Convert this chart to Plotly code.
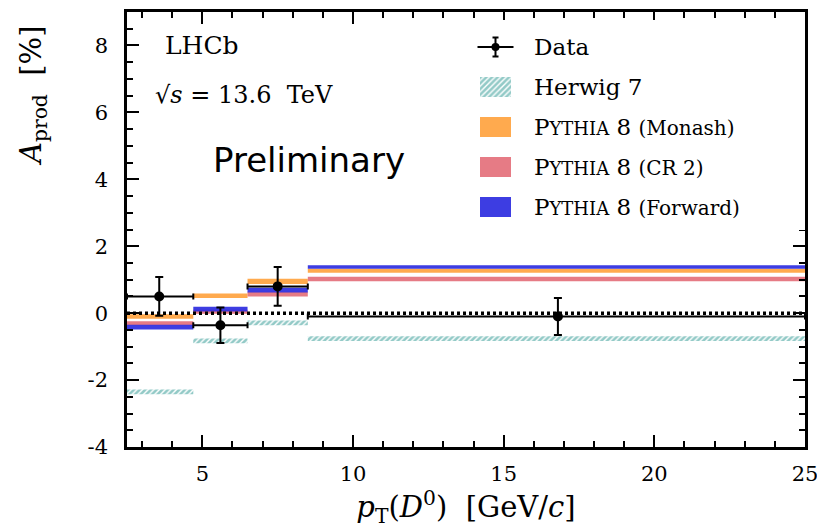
import plotly.graph_objects as go

# ---- data ----
bin_lo = [2.5, 4.7, 6.5, 8.5]
bin_hi = [4.7, 6.5, 8.5, 25.0]
data_x = [3.57, 5.6, 7.5, 16.8]
data_y = [0.50, -0.36, 0.80, -0.10]
data_err = [0.58, 0.53, 0.58, 0.55]

herwig = [-2.35, -0.83, -0.29, -0.76]
herwig_hw = [0.07, 0.07, 0.07, 0.07]
monash = [-0.10, 0.52, 0.95, 1.27]
monash_hw = [0.07, 0.07, 0.08, 0.06]
cr2 = [-0.30, 0.04, 0.57, 1.02]
cr2_hw = [0.06, 0.06, 0.07, 0.07]
forward = [-0.42, 0.12, 0.69, 1.38]
forward_hw = [0.07, 0.07, 0.07, 0.05]

y_tickvals = [-4, -2, 0, 2, 4, 6, 8]
y_ticktext = ["-4", "-2", "0", "2", "4", "6", "8"]
x_tickvals = [5, 10, 15, 20, 25]
x_ticktext = ["5", "10", "15", "20", "25"]

SC = "<span style='font-size:18px'>YTHIA</span>"
SM = "<span style='font-size:20px'>"
legend_labels = ["Data", "Herwig 7",
                 "P" + SC + " 8 " + SM + "(Monash)</span>",
                 "P" + SC + " 8 " + SM + "(CR 2)</span>",
                 "P" + SC + " 8 " + SM + "(Forward)</span>"]

SERIF = "DejaVu Serif"
SANS = "DejaVu Sans"
C_HERWIG = "#28958f"
C_MONASH = "#ffa33f"
C_CR2 = "#e4707b"
C_FWD = "#2d2de0"

centers = [(a + b) / 2 for a, b in zip(bin_lo, bin_hi)]
widths = [b - a for a, b in zip(bin_lo, bin_hi)]

fig = go.Figure()


def marker_style(color, hatched):
    if hatched:
        return dict(color="white", line=dict(width=0),
                    pattern=dict(shape="/", fgcolor=color, bgcolor="white",
                                 size=4, solidity=0.65))
    return dict(color=color, line=dict(width=0))


def band(name, vals, hws, color, hatched=False):
    fig.add_trace(go.Bar(
        x=centers, width=widths,
        base=[v - h for v, h in zip(vals, hws)],
        y=[2 * h for h in hws],
        marker=marker_style(color, hatched), opacity=1 if hatched else 0.92,
        name=name, showlegend=False, hoverinfo="skip",
    ))


band(legend_labels[1], herwig, herwig_hw, C_HERWIG, hatched=True)
band(legend_labels[2], monash, monash_hw, C_MONASH)
band(legend_labels[3], cr2, cr2_hw, C_CR2)
band(legend_labels[4], forward, forward_hw, C_FWD)

# zero reference line
fig.add_trace(go.Scatter(
    x=[bin_lo[0], bin_hi[-1]], y=[0, 0], mode="lines",
    line=dict(color="black", width=3.5, dash="3px,3px"),
    showlegend=False, hoverinfo="skip",
))

# data
fig.add_trace(go.Scatter(
    x=data_x, y=data_y, mode="markers", name="Data", showlegend=False,
    marker=dict(color="black", size=10),
    error_y=dict(type="data", array=data_err, color="black", thickness=2, width=4),
    error_x=dict(type="data",
                 array=[h - x for h, x in zip(bin_hi, data_x)],
                 arrayminus=[x - l for l, x in zip(bin_lo, data_x)],
                 color="black", thickness=2, width=3),
))

# ---- legend drawn on an inset axis (units ~ pixels) ----
leg_rows = [47, 87, 127, 167, 207]
leg_sym_x = 495.5
leg_sym_w = 31
leg_sym_h = 20
leg_text_x = 532

fig.add_trace(go.Scatter(
    x=[leg_sym_x], y=[leg_rows[0]], mode="markers", xaxis="x2", yaxis="y2",
    marker=dict(color="black", size=8), showlegend=False, hoverinfo="skip",
    error_x=dict(type="constant", value=18, color="black", thickness=2, width=0),
    error_y=dict(type="constant", value=9.5, color="black", thickness=2, width=3),
))
for row, color, hatched in zip(leg_rows[1:], [C_HERWIG, C_MONASH, C_CR2, C_FWD],
                               [True, False, False, False]):
    fig.add_trace(go.Bar(
        x=[leg_sym_x], width=[leg_sym_w], base=[row - leg_sym_h / 2], y=[leg_sym_h],
        xaxis="x2", yaxis="y2", marker=marker_style(color, hatched),
        opacity=1 if hatched else 0.92, showlegend=False, hoverinfo="skip",
    ))
for row, label in zip(leg_rows, legend_labels):
    fig.add_annotation(text=label, xref="x2", yref="y2", x=leg_text_x, y=row,
                       xanchor="left", yanchor="middle", showarrow=False,
                       font=dict(family=SERIF, size=23, color="black"))

axis_common = dict(
    showline=True, linecolor="black", linewidth=2.5, mirror="ticks",
    ticks="inside", ticklen=12, tickwidth=2, tickcolor="black",
    showgrid=False, zeroline=False, ticklabeloverflow="allow", automargin=False,
    tickfont=dict(family=SERIF, size=21, color="black"),
)

W, H = 817, 531
ML, MR, MT, MB = 127, 12, 12, 84
pw, ph = W - ML - MR, H - MT - MB

fig.update_layout(
    width=W, height=H,
    margin=dict(l=ML, r=MR, t=MT, b=MB),
    paper_bgcolor="white", plot_bgcolor="white",
    barmode="overlay",
    showlegend=False,
    xaxis=dict(range=[2.5, 25], tickvals=x_tickvals, ticktext=x_ticktext,
               minor=dict(dtick=1, ticks="inside", ticklen=6, tickwidth=2,
                          tickcolor="black", tick0=0),
               title=dict(text="<i>p</i><sub>T</sub>(<i>D</i><sup>0</sup>)  [GeV/<i>c</i>]",
                          font=dict(family=SERIF, size=29, color="black"), standoff=4),
               ticklabelstandoff=6,
               **axis_common),
    yaxis=dict(range=[-4, 9], tickvals=y_tickvals, ticktext=y_ticktext,
               minor=dict(dtick=0.5, ticks="inside", ticklen=6, tickwidth=2,
                          tickcolor="black", tick0=0),
               ticklabelstandoff=12,
               **axis_common),
    xaxis2=dict(domain=[(470 - ML) / pw, 1], range=[470, W - MR], visible=False,
                anchor="y2", fixedrange=True),
    yaxis2=dict(domain=[(H - MB - 230) / ph, (H - MB - 20) / ph], range=[230, 20],
                visible=False, anchor="x2", fixedrange=True),
)

fig.add_annotation(text="<i>A</i><sub>prod</sub>  [%]", xref="paper", yref="paper",
                   x=-(ML - 33) / pw, y=(H - MB - 24) / ph, textangle=-90,
                   xanchor="center", yanchor="top", showarrow=False,
                   font=dict(family=SERIF, size=29, color="black"))
fig.add_annotation(text="LHCb", xref="paper", yref="paper", x=(163 - ML) / pw,
                   y=(H - MB - 45) / ph,
                   xanchor="left", yanchor="middle", showarrow=False,
                   font=dict(family=SERIF, size=25, color="black"))
fig.add_annotation(text="√<i>s</i> = 13.6  TeV", xref="paper", yref="paper",
                   x=(153 - ML) / pw, y=(H - MB - 95) / ph,
                   xanchor="left", yanchor="middle", showarrow=False,
                   font=dict(family=SERIF, size=24, color="black"))
fig.add_annotation(text="Preliminary", xref="paper", yref="paper",
                   x=(309 - ML) / pw, y=(H - MB - 160) / ph,
                   xanchor="center", yanchor="middle", showarrow=False,
                   font=dict(family=SANS, size=34, color="black"))

fig.write_html("out.html")
